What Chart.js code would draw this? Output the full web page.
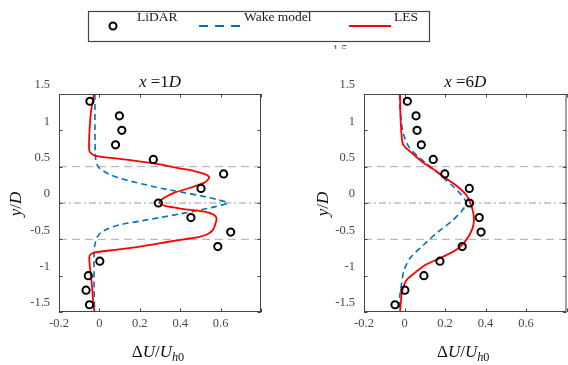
<!DOCTYPE html>
<html>
<head>
<meta charset="utf-8">
<script src="https://cdn.jsdelivr.net/npm/chart.js@4.4.1/dist/chart.umd.min.js"></script>
<style>
  html, body { margin: 0; background: #fff; overflow: hidden; }
  #wrap { position: relative; width: 568px; height: 365px; overflow: hidden; }
  #c1 { position: absolute; left: 0; top: 0; }
  #c2 { position: absolute; left: 290px; top: 0; }
</style>
</head>
<body>
<div id="wrap">
  <canvas id="c1" width="568" height="365"></canvas>
  <canvas id="c2" width="300" height="365"></canvas>
</div>
<script>
// LiDAR samples (y/D shared by both panels)
const yLidar = [1.4, 1.2, 1.0, 0.8, 0.6, 0.4, 0.2, 0, -0.2, -0.4, -0.6, -0.8, -1.0, -1.2, -1.4];
const lidar1D = [-0.047, 0.099, 0.111, 0.08, 0.267, 0.615, 0.503, 0.292, 0.453, 0.65, 0.586, 0.002, -0.055, -0.066, -0.049];
const lidar6D = [0.014, 0.057, 0.062, 0.083, 0.142, 0.199, 0.32, 0.321, 0.369, 0.378, 0.285, 0.175, 0.096, 0.002, -0.047];

// wake model, x = 1D
const yWake1D = [1.5, 1.0, 0.7, 0.6, 0.53, 0.48, 0.44, 0.4, 0.35, 0.3, 0.25, 0.2, 0.15, 0.1, 0.05, 0,
  -0.05, -0.1, -0.15, -0.2, -0.25, -0.3, -0.35, -0.4, -0.45, -0.5, -0.6, -0.8, -1.2, -1.5];
const wake1D = [-0.022, -0.022, -0.021, -0.018, -0.012, 0.0, 0.02, 0.045, 0.09, 0.155, 0.23, 0.31, 0.405, 0.5, 0.58, 0.635,
  0.575, 0.49, 0.4, 0.3, 0.2, 0.1, 0.045, 0.01, -0.006, -0.015, -0.024, -0.027, -0.026, -0.024];

// LES, x = 1D
const yLes1D = [1.5, 1.25, 1.0, 0.85, 0.72, 0.68, 0.65, 0.62, 0.58, 0.53, 0.48, 0.44, 0.4, 0.36, 0.33, 0.28, 0.21, 0.14, 0.08, 0.04, 0,
  -0.04, -0.08, -0.12, -0.16, -0.21, -0.3, -0.37, -0.43, -0.47, -0.5, -0.53, -0.6, -0.65, -0.68, -0.71, -0.75, -0.85, -1.1, -1.38, -1.5];
const les1D = [-0.027, -0.042, -0.049, -0.051, -0.05, -0.04, -0.02, 0.06, 0.18, 0.3, 0.39, 0.47, 0.52, 0.543, 0.54, 0.52, 0.45, 0.37, 0.325, 0.305, 0.298,
  0.325, 0.41, 0.52, 0.565, 0.58, 0.573, 0.562, 0.535, 0.49, 0.42, 0.35, 0.2, 0.06, -0.02, -0.045, -0.05, -0.048, -0.038, -0.03, -0.024];

// wake model, x = 6D
const yWake6D = [1.5, 1.3, 1.1, 0.95, 0.87, 0.78, 0.71, 0.63, 0.55, 0.47, 0.39, 0.3, 0.23, 0.11, 0.05, 0,
  -0.05, -0.12, -0.25, -0.41, -0.6, -0.76, -0.92, -1.1, -1.3, -1.5];
const wake6D = [-0.025, -0.022, -0.015, -0.005, 0.005, 0.02, 0.04, 0.07, 0.105, 0.14, 0.175, 0.21, 0.24, 0.282, 0.297, 0.304,
  0.298, 0.28, 0.233, 0.16, 0.085, 0.027, -0.002, -0.014, -0.024, -0.025];

// LES, x = 6D
const yLes6D = [1.5, 1.2, 0.92, 0.8, 0.71, 0.63, 0.55, 0.47, 0.39, 0.3, 0.23, 0.11, 0,
  -0.14, -0.27, -0.37, -0.5, -0.64, -0.76, -0.85, -0.93, -1.05, -1.15, -1.25, -1.5];
const les6D = [-0.022, -0.02, -0.014, -0.006, 0.027, 0.06, 0.095, 0.14, 0.18, 0.225, 0.26, 0.305, 0.325,
  0.34, 0.342, 0.333, 0.307, 0.258, 0.175, 0.105, 0.065, 0.013, -0.005, -0.014, -0.022];

// reference lines (y/D = +-0.5 dashed, 0 dash-dot)
const refDashed = [0.5, -0.5];
const refCenter = [0];

const xTicks = [-0.2, 0, 0.2, 0.4, 0.6, 0.8];
const yTicks = [-1.5, -1, -0.5, 0, 0.5, 1, 1.5];

const FONT = '"Liberation Serif", "DejaVu Serif", serif';

function pts(xs, ys) {
  return xs.map((v, i) => ({ x: v, y: ys[i] }));
}

function richText(ctx, parts, x, y, size) {
  // parts: [text, italic, subscript]
  const fonts = parts.map(p => (p[1] ? 'italic ' : '') + (p[2] ? size * 0.72 : size) + 'px ' + FONT);
  let w = 0;
  parts.forEach((p, i) => { ctx.font = fonts[i]; w += ctx.measureText(p[0]).width; });
  let cx = x - w / 2;
  ctx.textAlign = 'left';
  ctx.textBaseline = 'alphabetic';
  parts.forEach((p, i) => {
    ctx.font = fonts[i];
    ctx.fillText(p[0], cx, y + (p[2] ? size * 0.25 : 0));
    cx += ctx.measureText(p[0]).width;
  });
}

const framePlugin = {
  id: 'frame',
  afterDatasetsDraw(chart) {
    const { ctx, chartArea: a } = chart;
    const sx = chart.scales.x, sy = chart.scales.y;
    ctx.save();
    ctx.strokeStyle = '#454545';
    ctx.lineWidth = 1;
    ctx.strokeRect(a.left + 0.5, a.top + 0.5, a.right - a.left - 1, a.bottom - a.top - 1);
    ctx.beginPath();
    xTicks.forEach(v => {
      const px = Math.round(sx.getPixelForValue(v)) + 0.5;
      ctx.moveTo(px, a.bottom); ctx.lineTo(px, a.bottom - 3.5);
      ctx.moveTo(px, a.top); ctx.lineTo(px, a.top + 3.5);
    });
    yTicks.forEach(v => {
      const py = Math.round(sy.getPixelForValue(v)) + 0.5;
      ctx.moveTo(a.left, py); ctx.lineTo(a.left + 3.5, py);
      ctx.moveTo(a.right, py); ctx.lineTo(a.right - 3.5, py);
    });
    ctx.stroke();
    ctx.restore();
  }
};

function labelsPlugin(titleNum, yLabX) {
  return {
    id: 'labels' + titleNum,
    afterDraw(chart) {
      const { ctx, chartArea: a } = chart;
      const cx = (a.left + a.right) / 2;
      ctx.save();
      ctx.fillStyle = '#111';
      richText(ctx, [['x', true], [' =', false], [titleNum, false], ['D', true]], cx, 86.5, 17);
      richText(ctx, [['\u0394', false], ['U', true], ['/', false], ['U', true], ['h', true, true], ['0', false, true]], cx - 2, 357, 17);
      ctx.translate(yLabX, (a.top + a.bottom) / 2 + 1);
      ctx.rotate(-Math.PI / 2);
      richText(ctx, [['y', true], ['/', false], ['D', true]], 0, 0, 17);
      ctx.restore();
    }
  };
}

const legendPlugin = {
  id: 'legendBox',
  afterDraw(chart) {
    const ctx = chart.ctx;
    ctx.save();
    // partially hidden tick label under the legend
    ctx.save();
    ctx.beginPath();
    ctx.rect(300, 43, 80, 6);
    ctx.clip();
    ctx.fillStyle = '#555';
    ctx.font = '12px ' + FONT;
    ctx.textAlign = 'center';
    ctx.fillText('1.5', 340, 53);
    ctx.restore();

    ctx.strokeStyle = '#444';
    ctx.lineWidth = 1.2;
    ctx.strokeRect(88.5, 11.5, 341, 30);

    ctx.strokeStyle = '#000';
    ctx.lineWidth = 2;
    ctx.beginPath();
    ctx.arc(113, 26, 3.5, 0, Math.PI * 2);
    ctx.stroke();

    ctx.strokeStyle = '#0072BD';
    ctx.setLineDash([9, 7]);
    ctx.beginPath();
    ctx.moveTo(199, 26); ctx.lineTo(241, 26);
    ctx.stroke();
    ctx.setLineDash([]);

    ctx.strokeStyle = '#FF0000';
    ctx.beginPath();
    ctx.moveTo(349, 26); ctx.lineTo(391, 26);
    ctx.stroke();

    ctx.fillStyle = '#1a1a1a';
    ctx.font = '13.5px ' + FONT;
    ctx.textAlign = 'left';
    ctx.textBaseline = 'alphabetic';
    ctx.fillText('LiDAR', 137, 21);
    ctx.fillText('Wake model', 244, 21);
    ctx.fillText('LES', 394, 21);
    ctx.restore();
  }
};

function makeDatasets(lidar, wakeX, wakeY, lesX, lesY) {
  const refLine = (y, dash, color) => ({
    data: [{ x: -0.2, y: y }, { x: 0.8, y: y }],
    showLine: true, borderColor: color, borderWidth: 1, borderDash: dash, pointRadius: 0
  });
  return [
    {
      label: 'LiDAR', data: pts(lidar, yLidar), showLine: false,
      pointRadius: 3.6, pointBorderWidth: 2, pointBorderColor: '#000', pointBackgroundColor: 'rgba(0,0,0,0)'
    },
    {
      label: 'LES', data: pts(lesX, lesY), showLine: true, borderColor: '#FF0000', borderWidth: 1.8,
      pointRadius: 0, tension: 0.25
    },
    {
      label: 'Wake model', data: pts(wakeX, wakeY), showLine: true, borderColor: '#0072BD', borderWidth: 1.6,
      borderDash: [6, 4], pointRadius: 0, tension: 0.25
    },
    ...refDashed.map(y => refLine(y, [8, 5], '#ababab')),
    ...refCenter.map(y => refLine(y, [7, 3, 2, 3], '#9a9a9a'))
  ];
}

function makeOptions(yWidth, padRight) {
  const tickFont = { family: FONT, size: 12.5 };
  return {
    responsive: false,
    animation: false,
    events: [],
    layout: { padding: { left: 0, right: padRight, top: 94, bottom: 23 } },
    plugins: { legend: { display: false }, tooltip: { enabled: false }, title: { display: false } },
    scales: {
      x: {
        type: 'linear', min: -0.2, max: 0.8,
        grid: { display: false, drawTicks: false },
        border: { display: false },
        afterFit(scale) { scale.height = 30; },
        afterBuildTicks(scale) { scale.ticks = xTicks.map(v => ({ value: v })); },
        ticks: {
          padding: 4, color: '#474747', font: tickFont, maxRotation: 0, autoSkip: false,
          callback: v => (Math.abs(v - 0.8) < 1e-6 ? '' : String(Math.round(v * 10) / 10))
        }
      },
      y: {
        type: 'linear', min: -1.5, max: 1.5,
        grid: { display: false, drawTicks: false },
        border: { display: false },
        afterFit(scale) { scale.width = yWidth; },
        afterBuildTicks(scale) { scale.ticks = yTicks.map(v => ({ value: v })); },
        ticks: {
          padding: 9, color: '#474747', font: tickFont, labelOffset: -9, autoSkip: false,
          callback: v => String(Math.round(v * 10) / 10)
        }
      }
    }
  };
}

new Chart(document.getElementById('c1'), {
  type: 'scatter',
  data: { datasets: makeDatasets(lidar1D, wake1D, yWake1D, les1D, yLes1D) },
  options: makeOptions(59, 307),
  plugins: [framePlugin, labelsPlugin('1', 21), legendPlugin]
});

new Chart(document.getElementById('c2'), {
  type: 'scatter',
  data: { datasets: makeDatasets(lidar6D, wake6D, yWake6D, les6D, yLes6D) },
  options: makeOptions(74, 23.5),
  plugins: [framePlugin, labelsPlugin('6', 38)]
});
</script>
</body>
</html>
